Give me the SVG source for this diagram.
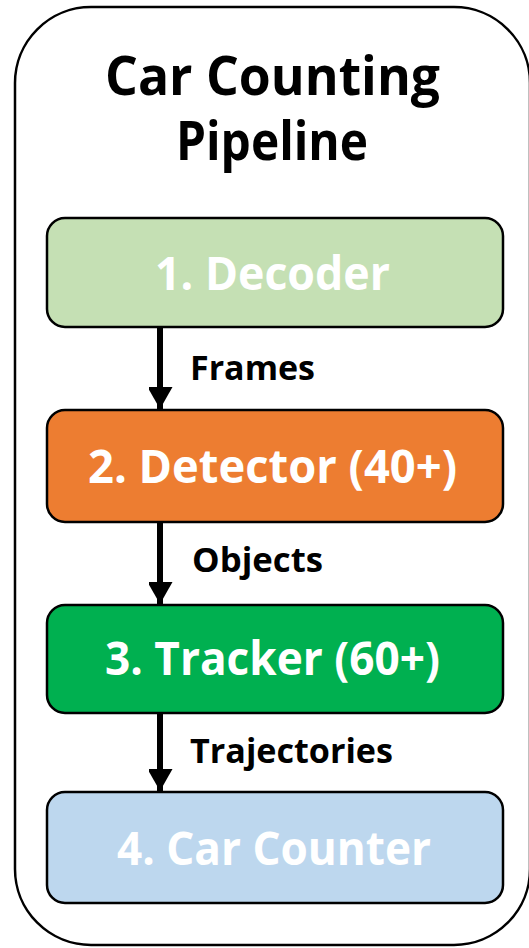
<svg xmlns="http://www.w3.org/2000/svg" width="529" height="948" viewBox="0 0 529 948">
  <style>
    .frame { fill: #ffffff; stroke: #000000; stroke-width: 2.5; }
    .stage { stroke: #000000; stroke-width: 2.5; }
    .title { font-family: "Open Sans", "Liberation Sans", sans-serif; font-weight: bold; font-size: 54px; fill: #000000; text-anchor: middle; }
    .stage-label { font-family: "Open Sans", "Liberation Sans", sans-serif; font-weight: bold; font-size: 46px; fill: #ffffff; text-anchor: middle; }
    .edge-label { font-family: "Open Sans", "Liberation Sans", sans-serif; font-weight: bold; font-size: 34px; fill: #000000; text-anchor: start; }
    .flow { stroke: #000000; stroke-width: 6; fill: none; }
  </style>
  <defs>
    <marker id="arrowhead" markerUnits="userSpaceOnUse" markerWidth="26" markerHeight="24" refX="22" refY="12.5" orient="auto">
      <path d="M0,0 L22,12.5 L0,25 Z" fill="#000000"/>
    </marker>
  </defs>

  <!-- outer container -->
  <g id="pipeline">
    <rect class="frame" x="15" y="7" width="515" height="938" rx="76" ry="76"/>
    <text class="title" x="272.5" y="95" textLength="335" lengthAdjust="spacingAndGlyphs">Car Counting</text>
    <text class="title" x="272" y="160" textLength="192" lengthAdjust="spacingAndGlyphs">Pipeline</text>
  </g>

  <!-- stages -->
  <g id="decoder">
    <rect class="stage" x="47" y="218" width="456" height="109" rx="18" ry="18" fill="#C5E0B4"/>
    <text class="stage-label" x="272.5" y="290" textLength="235" lengthAdjust="spacingAndGlyphs">1. Decoder</text>
  </g>
  <g id="detector">
    <rect class="stage" x="47" y="410" width="456" height="112" rx="18" ry="18" fill="#ED7D31"/>
    <text class="stage-label" x="272.5" y="483" textLength="369" lengthAdjust="spacingAndGlyphs">2. Detector (40+)</text>
  </g>
  <g id="tracker">
    <rect class="stage" x="47" y="605" width="456" height="108" rx="18" ry="18" fill="#00B050"/>
    <text class="stage-label" x="272.5" y="675" textLength="335" lengthAdjust="spacingAndGlyphs">3. Tracker (60+)</text>
  </g>
  <g id="car-counter">
    <rect class="stage" x="47" y="792" width="456" height="111" rx="18" ry="18" fill="#BDD7EE"/>
    <text class="stage-label" x="274" y="865" textLength="314" lengthAdjust="spacingAndGlyphs">4. Car Counter</text>
  </g>

  <!-- connectors -->
  <g id="connectors">
    <line class="flow" x1="160" y1="327" x2="160" y2="409" marker-end="url(#arrowhead)"/>
    <text class="edge-label" x="190" y="380" textLength="125" lengthAdjust="spacingAndGlyphs">Frames</text>
    <line class="flow" x1="160" y1="522" x2="160" y2="604" marker-end="url(#arrowhead)"/>
    <text class="edge-label" x="192" y="572" textLength="131" lengthAdjust="spacingAndGlyphs">Objects</text>
    <line class="flow" x1="160" y1="713" x2="160" y2="791" marker-end="url(#arrowhead)"/>
    <text class="edge-label" x="190" y="763" textLength="203" lengthAdjust="spacingAndGlyphs">Trajectories</text>
  </g>
</svg>
